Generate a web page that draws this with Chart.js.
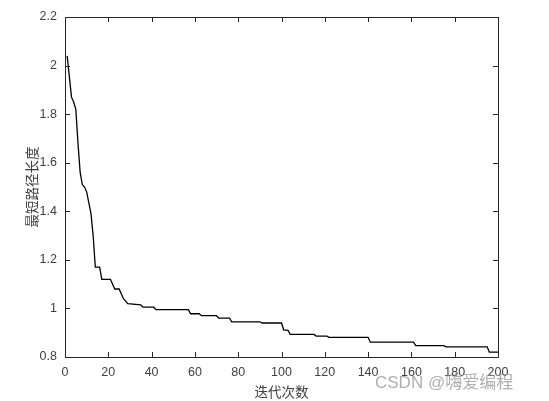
<!DOCTYPE html>
<html>
<head>
<meta charset="utf-8">
<script src="https://cdn.jsdelivr.net/npm/chart.js@4.4.1/dist/chart.umd.min.js"></script>
<style>
  html, body { margin: 0; padding: 0; background: #fff; }
  #wrap { width: 549px; height: 401px; }
</style>
</head>
<body>
<div id="wrap"><canvas id="miGrafico" width="549" height="401"></canvas></div>
<script>
// iteraciones donde cambia la curva y su valor
const iteraciones = [1, 3, 4, 5, 6, 7, 8, 9, 10, 12, 13, 14, 16, 17, 21, 22, 23, 25, 26, 27, 28, 29, 35, 36, 41, 42, 57, 58, 62, 63, 70, 71, 76, 77, 90, 91, 100, 101, 103, 104, 115, 116, 121, 122, 140, 141, 161, 162, 175, 176, 195, 196, 200];
const longitudes = [2.04, 1.87, 1.85, 1.82, 1.68, 1.56, 1.51, 1.50, 1.48, 1.39, 1.30, 1.17, 1.17, 1.12, 1.12, 1.10, 1.08, 1.08, 1.06, 1.04, 1.03, 1.02, 1.015, 1.005, 1.005, 0.995, 0.995, 0.978, 0.978, 0.97, 0.97, 0.96, 0.96, 0.945, 0.945, 0.94, 0.94, 0.912, 0.91, 0.893, 0.893, 0.886, 0.886, 0.881, 0.881, 0.861, 0.861, 0.847, 0.847, 0.842, 0.842, 0.82, 0.82];
const xTicks = [0, 20, 40, 60, 80, 100, 120, 140, 160, 180, 200];
const yTicks = [0.8, 1, 1.2, 1.4, 1.6, 1.8, 2, 2.2];

const puntos = iteraciones.map((it, i) => ({ x: it, y: longitudes[i] }));

// caja y marcas hacia dentro (estilo matlab)
const cajaPlugin = {
  id: 'caja',
  afterDatasetsDraw(chart) {
    const { ctx, chartArea: a, scales } = chart;
    ctx.save();
    ctx.strokeStyle = '#262626';
    ctx.lineWidth = 1;
    ctx.beginPath();
    ctx.rect(a.left + 0.5, a.top + 0.5, a.right - a.left, a.bottom - a.top);
    ctx.stroke();
    const len = 5;
    ctx.beginPath();
    xTicks.forEach(v => {
      const px = Math.round(scales.x.getPixelForValue(v)) + 0.5;
      ctx.moveTo(px, a.bottom); ctx.lineTo(px, a.bottom - len);
      ctx.moveTo(px, a.top); ctx.lineTo(px, a.top + len);
    });
    yTicks.forEach(v => {
      const py = Math.round(scales.y.getPixelForValue(v)) + 0.5;
      ctx.moveTo(a.left, py); ctx.lineTo(a.left + len, py);
      ctx.moveTo(a.right, py); ctx.lineTo(a.right - len, py);
    });
    ctx.stroke();
    ctx.restore();
  },
  afterDraw(chart) {
    const { ctx } = chart;
    ctx.save();
    ctx.fillStyle = 'rgba(140,140,140,0.7)';
    ctx.font = '17px "Liberation Sans", "Noto Sans CJK SC", sans-serif';
    ctx.textBaseline = 'middle';
    ctx.fillText('CSDN @嗨爱编程', 375, 383);
    ctx.restore();
  }
};

const ctx = document.getElementById('miGrafico').getContext('2d');
new Chart(ctx, {
  type: 'line',
  data: {
    datasets: [{
      data: puntos,
      borderColor: '#000',
      borderWidth: 1.3,
      pointRadius: 0,
      tension: 0,
      fill: false
    }]
  },
  options: {
    responsive: false,
    animation: false,
    layout: { padding: { left: 0, right: 51, top: 17, bottom: 0 } },
    plugins: { legend: { display: false }, tooltip: { enabled: false } },
    scales: {
      x: {
        type: 'linear',
        min: 0, max: 200,
        afterFit: s => { s.height = 44; },
        afterBuildTicks: s => { s.ticks = xTicks.map(v => ({ value: v })); },
        grid: { display: false, drawTicks: false },
        border: { display: false },
        ticks: { padding: 8, color: '#404040', font: { family: 'Liberation Sans', size: 12.5 }, maxRotation: 0 },
        title: { display: true, text: '迭代次数', color: '#404040', padding: { top: 0, bottom: 1 },
                 font: { family: 'Noto Sans CJK SC', size: 13.5 } }
      },
      y: {
        min: 0.8, max: 2.2,
        afterFit: s => { s.width = 65; },
        afterBuildTicks: s => { s.ticks = yTicks.map(v => ({ value: v })); },
        grid: { display: false, drawTicks: false },
        border: { display: false },
        ticks: { padding: 8, color: '#404040', font: { family: 'Liberation Sans', size: 12.5 },
                 callback: v => String(Math.round(v * 10) / 10) },
        title: { display: true, text: '最短路径长度', color: '#404040', padding: { top: 24, bottom: 0 },
                 font: { family: 'Noto Sans CJK SC', size: 13.5 } }
      }
    }
  },
  plugins: [cajaPlugin]
});
</script>
</body>
</html>
